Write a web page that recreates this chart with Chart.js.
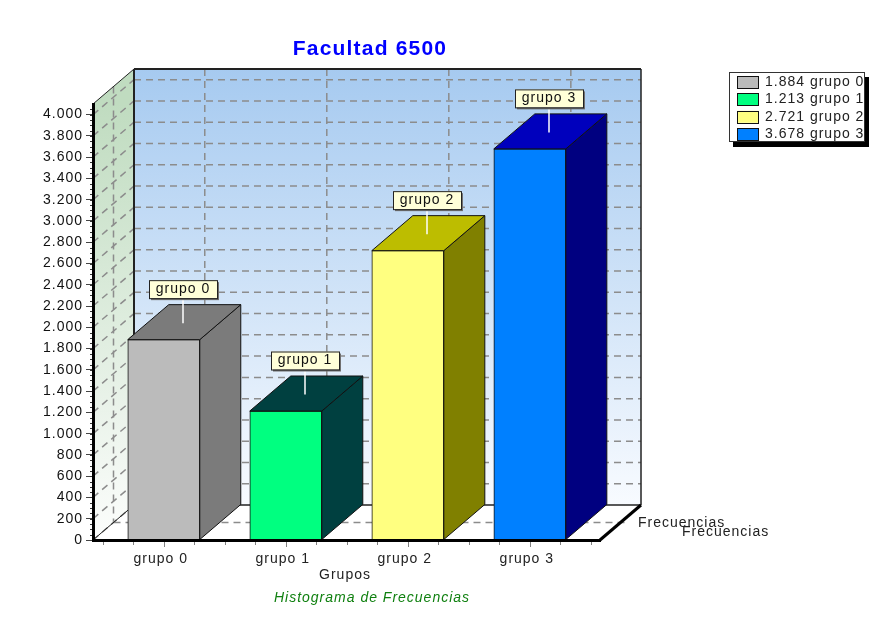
<!DOCTYPE html>
<html>
<head>
<meta charset="utf-8">
<title>Facultad 6500</title>
<script src="https://cdn.jsdelivr.net/npm/chart.js@4"></script>
<style>
    body { margin: 0; background: #fff; }
</style>
</head>
<body>
<canvas id="histograma" width="887" height="623"></canvas>
<script>
const grupos = ["grupo 0", "grupo 1", "grupo 2", "grupo 3"]
const frecuencias = [1884, 1213, 2721, 3678]

const colorFrente = ["#bbbbbb", "#00ff80", "#ffff80", "#0080ff"]
const colorLado = ["#7b7b7b", "#004040", "#808000", "#000080"]
const colorTapa = ["#7b7b7b", "#004040", "#bdbd00", "#0000bd"]

// depth of the 3D box, in pixels
const fondoX = 41
const fondoY = -35

const fuente = "Liberation Sans"

function miles(v){
    return String(v).replace(/\B(?=(\d{3})+$)/g, ".")
}

function texto(ctx, str, x, y, font, color, align){
    ctx.font = font
    ctx.fillStyle = color
    ctx.textAlign = align || "center"
    ctx.textBaseline = "middle"
    ctx.fillText(str, x, y)
}

function poligono(ctx, puntos, fill, stroke, ancho){
    ctx.beginPath()
    puntos.forEach((p, i) => i ? ctx.lineTo(p[0], p[1]) : ctx.moveTo(p[0], p[1]))
    ctx.closePath()
    if(fill){
        ctx.fillStyle = fill
        ctx.fill()
    }
    if(stroke){
        ctx.strokeStyle = stroke
        ctx.lineWidth = ancho || 1
        ctx.stroke()
    }
}

function linea(ctx, x1, y1, x2, y2){
    ctx.beginPath()
    ctx.moveTo(x1, y1)
    ctx.lineTo(x2, y2)
    ctx.stroke()
}

// back wall, side wall, floor and their dashed grid
function pintarParedes(chart){
    const ctx = chart.ctx
    const { left, right, top, bottom } = chart.chartArea
    const y = chart.scales.y
    const x = chart.scales.x

    ctx.save()

    const degFondo = ctx.createLinearGradient(0, top + fondoY, 0, bottom + fondoY)
    degFondo.addColorStop(0, "#a6caf0")
    degFondo.addColorStop(1, "#f8fbff")
    poligono(ctx, [[left + fondoX, top + fondoY], [right + fondoX, top + fondoY],
        [right + fondoX, bottom + fondoY], [left + fondoX, bottom + fondoY]], degFondo)

    const degLado = ctx.createLinearGradient(0, top, 0, bottom)
    degLado.addColorStop(0, "#c0dcc0")
    degLado.addColorStop(1, "#fcfdfc")
    poligono(ctx, [[left, top], [left + fondoX, top + fondoY],
        [left + fondoX, bottom + fondoY], [left, bottom]], degLado)

    ctx.strokeStyle = "#8c8c8c"
    ctx.lineWidth = 1.5
    ctx.setLineDash([7, 5])
    y.ticks.forEach(t => {
        const py = y.getPixelForValue(t.value)
        if(t.value > 0){
            linea(ctx, left + fondoX, py + fondoY, right + fondoX, py + fondoY)
        }
        linea(ctx, left, py, left + fondoX, py + fondoY)
    })
    x.ticks.forEach(t => {
        const px = x.getPixelForValue(t.value) + fondoX
        linea(ctx, px, top + fondoY, px, bottom + fondoY)
    })
    linea(ctx, left + fondoX / 2, top + fondoY / 2, left + fondoX / 2, bottom + fondoY / 2)
    linea(ctx, left + fondoX / 2, bottom + fondoY / 2, right + fondoX / 2 + 5, bottom + fondoY / 2)
    ctx.setLineDash([])

    ctx.strokeStyle = "#222"
    ctx.lineWidth = 2
    linea(ctx, left + fondoX, top + fondoY, right + fondoX, top + fondoY)
    linea(ctx, left + fondoX, top + fondoY, left + fondoX, bottom + fondoY)
    ctx.lineWidth = 1.5
    linea(ctx, right + fondoX, top + fondoY, right + fondoX, bottom + fondoY)
    linea(ctx, left + fondoX, bottom + fondoY, right + fondoX, bottom + fondoY)
    ctx.lineWidth = 1
    linea(ctx, left, top, left + fondoX, top + fondoY)
    linea(ctx, left, bottom, left + fondoX, bottom + fondoY)
    ctx.lineWidth = 3
    ctx.strokeStyle = "#000"
    linea(ctx, right, bottom, right + fondoX, bottom + fondoY)

    ctx.restore()
}

// small notches along both axes
function pintarMarcas(chart){
    const ctx = chart.ctx
    const { left, bottom } = chart.chartArea
    const y = chart.scales.y
    const x = chart.scales.x

    ctx.save()
    ctx.strokeStyle = "#333"
    ctx.lineWidth = 1
    for(let v = 50; v < 4100; v += 50){
        const py = Math.round(y.getPixelForValue(v)) + 0.5
        linea(ctx, left - 3, py, left, py)
    }
    ctx.strokeStyle = "#808080"
    for(let v = -0.5; v <= 3.5; v += 0.25){
        const px = Math.round(x.getPixelForValue(v)) + 0.5
        linea(ctx, px, bottom + 1, px, bottom + (v % 1 === 0 ? 7 : 5))
    }
    ctx.restore()
}

// side and top faces of every bar, taken from the drawn bar element
function pintarCaras(chart){
    const ctx = chart.ctx
    const barras = chart.getDatasetMeta(0).data

    ctx.save()
    barras.forEach((b, i) => {
        const izq = b.x - b.width / 2
        const der = b.x + b.width / 2
        poligono(ctx, [[der, b.y], [der + fondoX, b.y + fondoY],
            [der + fondoX, b.base + fondoY], [der, b.base]], colorLado[i], "#111", 1)
        poligono(ctx, [[izq, b.y], [izq + fondoX, b.y + fondoY],
            [der + fondoX, b.y + fondoY], [der, b.y]], colorTapa[i], "#111", 1)
    })
    ctx.restore()
}

// callout box over each bar with a white pointer down to the top face
function pintarEtiquetas(chart){
    const ctx = chart.ctx
    const barras = chart.getDatasetMeta(0).data

    ctx.save()
    barras.forEach((b, i) => {
        const cx = Math.round(b.x + fondoX / 2) - 1
        const cy = b.y + fondoY / 2

        ctx.strokeStyle = "#fff"
        ctx.lineWidth = 1.5
        linea(ctx, cx, cy - 24, cx, cy + 1)

        const caja = [cx - 34, cy - 42, 68, 18]
        ctx.fillStyle = "#707070"
        ctx.fillRect(caja[0] + 2, caja[1] + 2, caja[2], caja[3])
        ctx.fillStyle = "#ffffd8"
        ctx.fillRect(caja[0], caja[1], caja[2], caja[3])
        ctx.strokeStyle = "#222"
        ctx.lineWidth = 1
        ctx.strokeRect(caja[0] + 0.5, caja[1] + 0.5, caja[2], caja[3])
        texto(ctx, grupos[i], cx, cy - 33, "14px " + fuente, "#111")
    })
    ctx.restore()
}

function pintarLeyenda(chart){
    const ctx = chart.ctx

    ctx.save()
    ctx.fillStyle = "#000"
    ctx.fillRect(733, 77, 136, 70)
    ctx.fillStyle = "#fff"
    ctx.fillRect(729, 72, 136, 70)
    ctx.strokeStyle = "#333"
    ctx.lineWidth = 1
    ctx.strokeRect(729.5, 72.5, 135, 69)

    grupos.forEach((g, i) => {
        const fila = 82 + i * 17.4
        ctx.fillStyle = colorFrente[i]
        ctx.fillRect(737, fila - 6, 22, 12)
        ctx.strokeStyle = "#111"
        ctx.strokeRect(737.5, Math.round(fila - 6) + 0.5, 21, 12)
        texto(ctx, miles(frecuencias[i]) + " " + g, 765, fila, "14px " + fuente, "#222", "left")
    })
    ctx.restore()
}

function pintarTextos(chart){
    const ctx = chart.ctx
    ctx.save()
    ctx.letterSpacing = "1.2px"
    texto(ctx, "Facultad 6500", 370, 49, "bold 21px " + fuente, "#0000ff")
    ctx.letterSpacing = "1px"
    texto(ctx, "Grupos", 345, 575, "14px " + fuente, "#222")
    texto(ctx, "Histograma de Frecuencias", 372, 598, "italic 14px " + fuente, "#108010")
    texto(ctx, "Frecuencias", 638, 523, "14px " + fuente, "#222", "left")
    texto(ctx, "Frecuencias", 682, 532, "14px " + fuente, "#222", "left")
    ctx.restore()
}

const caja3d = {
    id: "caja3d",
    beforeDraw(chart){
        chart.ctx.letterSpacing = "1px"
        pintarParedes(chart)
    },
    afterDatasetsDraw(chart){
        pintarCaras(chart)
        pintarMarcas(chart)
        pintarEtiquetas(chart)
    },
    afterDraw(chart){
        pintarLeyenda(chart)
        pintarTextos(chart)
    }
}

new Chart(document.getElementById("histograma"), {
    type: "bar",
    data: {
        datasets: [{
            label: "Frecuencias",
            data: frecuencias.map((v, i) => ({ x: i, y: v })),
            backgroundColor: colorFrente,
            borderColor: "#111",
            borderWidth: 1,
            barThickness: 72
        }]
    },
    options: {
        responsive: false,
        animation: false,
        layout: {
            padding: { left: 33, right: 287, top: 104, bottom: 53 }
        },
        plugins: {
            legend: { display: false },
            tooltip: { enabled: false }
        },
        scales: {
            x: {
                type: "linear",
                offset: false,
                min: -0.58,
                max: 3.575,
                afterBuildTicks(scale){
                    scale.ticks = grupos.map((g, i) => ({ value: i }))
                },
                afterFit(scale){
                    scale.height = 30
                },
                grid: { offset: false, drawOnChartArea: false, drawTicks: false },
                border: { color: "#000", width: 3, z: 1 },
                ticks: {
                    autoSkip: false,
                    maxRotation: 0,
                    padding: 11,
                    labelOffset: -3,
                    color: "#222",
                    font: { family: fuente, size: 14 },
                    callback: v => grupos[v]
                }
            },
            y: {
                min: 0,
                max: 4100,
                afterFit(scale){
                    scale.width = 60
                },
                grid: { drawOnChartArea: false, tickLength: 7, tickColor: "#444" },
                border: { color: "#000", width: 3, z: 1 },
                ticks: {
                    stepSize: 200,
                    includeBounds: false,
                    padding: 3,
                    color: "#111",
                    font: { family: fuente, size: 14 },
                    callback: v => miles(v)
                }
            }
        }
    },
    plugins: [caja3d]
})
</script>
</body>
</html>
